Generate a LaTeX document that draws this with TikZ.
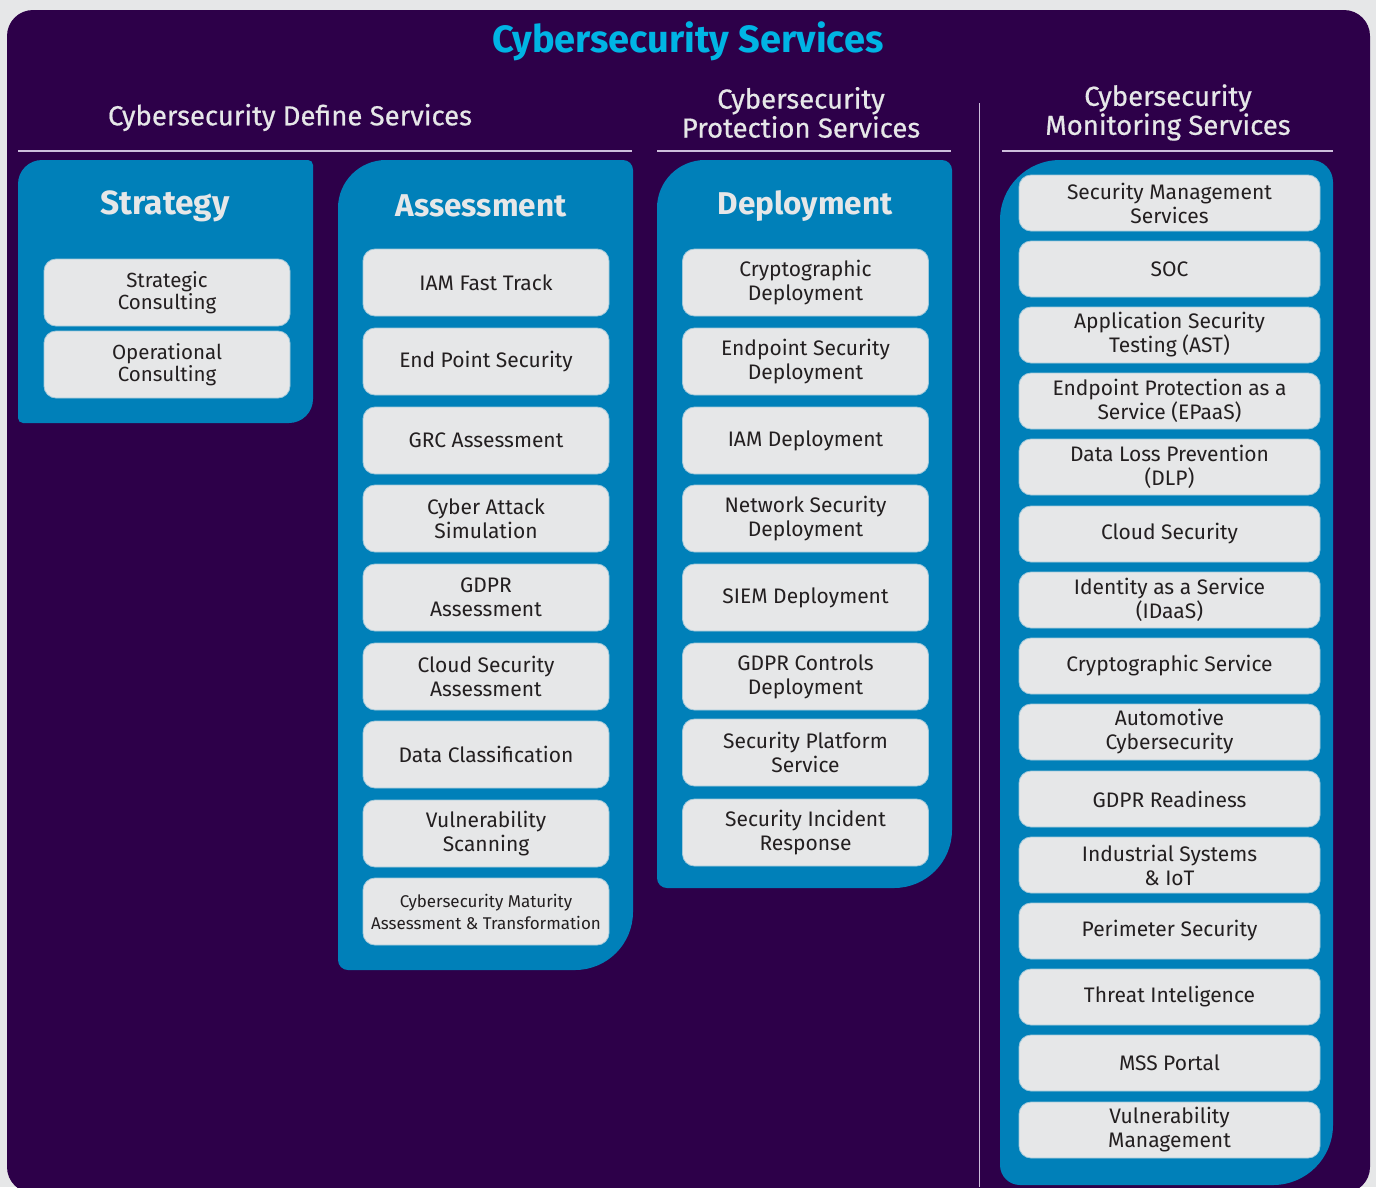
\documentclass[tikz,border=0pt]{standalone}
\usepackage{fontspec}
\setmainfont{Fira Sans}
\newfontfamily\headfont[FakeBold=0.6]{Fira Sans}
\definecolor{pagegray}{HTML}{E6E7E8}
\definecolor{deeppurple}{HTML}{2D0049}
\definecolor{colblue}{HTML}{0080B9}
\definecolor{titlecyan}{HTML}{00B4E4}
\definecolor{itemtext}{HTML}{231F20}
\definecolor{rulelilac}{HTML}{CDBEDC}
\tikzset{
  item/.style={fill=pagegray,draw=pagegray!70!colblue,line width=0.8pt,rounded corners=12pt,
    align=center,text=itemtext,font=\fontsize{21}{24}\selectfont,inner sep=0pt},
  shortitem/.style={item,minimum width=246pt,minimum height=67pt},
  monitem/.style={item,minimum width=301pt,minimum height=56pt},
  coltitle/.style={text=pagegray,font=\fontsize{31.5}{36}\selectfont\bfseries},
  header/.style={text=pagegray,align=center,font=\headfont\fontsize{27.5}{29}\selectfont},
  sectionrule/.style={draw=rulelilac,line width=1.2pt}
}
\begin{document}
\begin{tikzpicture}[x=1pt,y=-1pt]
  \useasboundingbox (0,0) rectangle (1376,1187);
  \begin{scope}
    \clip (0,0) rectangle (1376,1187);
    \fill[pagegray] (0,0) rectangle (1376,1187);
    \fill[deeppurple,rounded corners=26pt] (7,10) rectangle (1370,1193);
  \end{scope}
  % headings
  \node[text=titlecyan,font=\fontsize{38}{42}\selectfont\bfseries] (title) at (688,41) {Cybersecurity Services};
  \node[header] (define) at (290,117.5) {Cybersecurity Define Services};
  \node[header] (protect) at (801,112.5) {Cybersecurity\\Protection Services};
  \node[header] (monitor) at (1168,112.5) {Cybersecurity\\Monitoring Services};
  \coordinate (r1a) at (18,151);    \coordinate (r1b) at (632,151);
  \coordinate (r2a) at (657,151);   \coordinate (r2b) at (951,151);
  \coordinate (r3a) at (1002,151);  \coordinate (r3b) at (1333,151);
  \coordinate (vtop) at (979,103);  \coordinate (vbot) at (979,1187);
  \draw[sectionrule] (r1a) -- (r1b);
  \draw[sectionrule] (r2a) -- (r2b);
  \draw[sectionrule] (r3a) -- (r3b);
  \draw[draw=rulelilac,line width=1pt] (vtop) -- (vbot);
  % column panels
  \fill[colblue] (18,290) [rounded corners=24pt] -- (18,160) [rounded corners=5pt] -- (313,160)
    [rounded corners=24pt] -- (313,423) [rounded corners=5pt] -- (18,423) [sharp corners] -- cycle;
  \fill[colblue] (338,500) [rounded corners=48pt] -- (338,160) [rounded corners=10pt] -- (633,160)
    [rounded corners=58pt] -- (633,970) [rounded corners=10pt] -- (338,970) [sharp corners] -- cycle;
  \fill[colblue] (657,500) [rounded corners=48pt] -- (657,160) [rounded corners=10pt] -- (952,160)
    [rounded corners=58pt] -- (952,888) [rounded corners=10pt] -- (657,888) [sharp corners] -- cycle;
  \fill[colblue] (1000,600) [rounded corners=60pt] -- (1000,160) [rounded corners=22pt] -- (1333,160)
    [rounded corners=60pt] -- (1333,1185) [rounded corners=20pt] -- (1000,1185) [sharp corners] -- cycle;
  \node[coltitle,font=\fontsize{33.5}{36}\selectfont\bfseries] (strategy) at (165,206) {Strategy};
  \node[coltitle] (assess) at (481,206) {Assessment};
  \node[coltitle] (deploy) at (805,206) {Deployment};
  % strategy
  \node[shortitem,font=\fontsize{20.5}{22}\selectfont] (s1) at (167,292.5) {Strategic\\Consulting};
  \node[shortitem,font=\fontsize{20.5}{22}\selectfont] (s2) at (167,364.5) {Operational\\Consulting};
  % assessment
  \node[shortitem] (a1) at (486,282.5) {IAM Fast Track};
  \node[shortitem] (a2) at (486,361.5) {End Point Security};
  \node[shortitem] (a3) at (486,440.5) {GRC Assessment};
  \node[shortitem] (a4) at (486,518.5) {Cyber Attack\\Simulation};
  \node[shortitem] (a5) at (486,597.5) {GDPR\\Assessment};
  \node[shortitem] (a6) at (486,676.5) {Cloud Security\\Assessment};
  \node[shortitem] (a7) at (486,754.5) {Data Classification};
  \node[shortitem] (a8) at (486,833.5) {Vulnerability\\Scanning};
  \node[shortitem,font=\fontsize{17}{22}\selectfont] (a9) at (486,911.5) {Cybersecurity Maturity\\Assessment \& Transformation};
  % deployment
  \node[shortitem] (d1) at (805.5,282.5) {Cryptographic\\Deployment};
  \node[shortitem] (d2) at (805.5,361.5) {Endpoint Security\\Deployment};
  \node[shortitem] (d3) at (805.5,440.5) {IAM Deployment};
  \node[shortitem] (d4) at (805.5,518.5) {Network Security\\Deployment};
  \node[shortitem] (d5) at (805.5,597.5) {SIEM Deployment};
  \node[shortitem] (d6) at (805.5,676.5) {GDPR Controls\\Deployment};
  \node[shortitem] (d7) at (805.5,752.5) {Security Platform\\Service};
  \node[shortitem] (d8) at (805.5,832.5) {Security Incident\\Response};
  % monitoring
  \node[monitem] (m1) at (1169.5,203) {Security Management\\Services};
  \node[monitem] (m2) at (1169.5,269) {SOC};
  \node[monitem] (m3) at (1169.5,335) {Application Security\\Testing (AST)};
  \node[monitem] (m4) at (1169.5,401) {Endpoint Protection as a\\Service (EPaaS)};
  \node[monitem] (m5) at (1169.5,467) {Data Loss Prevention\\(DLP)};
  \node[monitem] (m6) at (1169.5,534) {Cloud Security};
  \node[monitem] (m7) at (1169.5,600) {Identity as a Service\\(IDaaS)};
  \node[monitem] (m8) at (1169.5,666) {Cryptographic Service};
  \node[monitem] (m9) at (1169.5,732) {Automotive\\Cybersecurity};
  \node[monitem] (m10) at (1169.5,799) {GDPR Readiness};
  \node[monitem] (m11) at (1169.5,865) {Industrial Systems\\\& IoT};
  \node[monitem] (m12) at (1169.5,931) {Perimeter Security};
  \node[monitem] (m13) at (1169.5,997) {Threat Inteligence};
  \node[monitem] (m14) at (1169.5,1063) {MSS Portal};
  \node[monitem] (m15) at (1169.5,1130) {Vulnerability\\Management};
\end{tikzpicture}
\end{document}
